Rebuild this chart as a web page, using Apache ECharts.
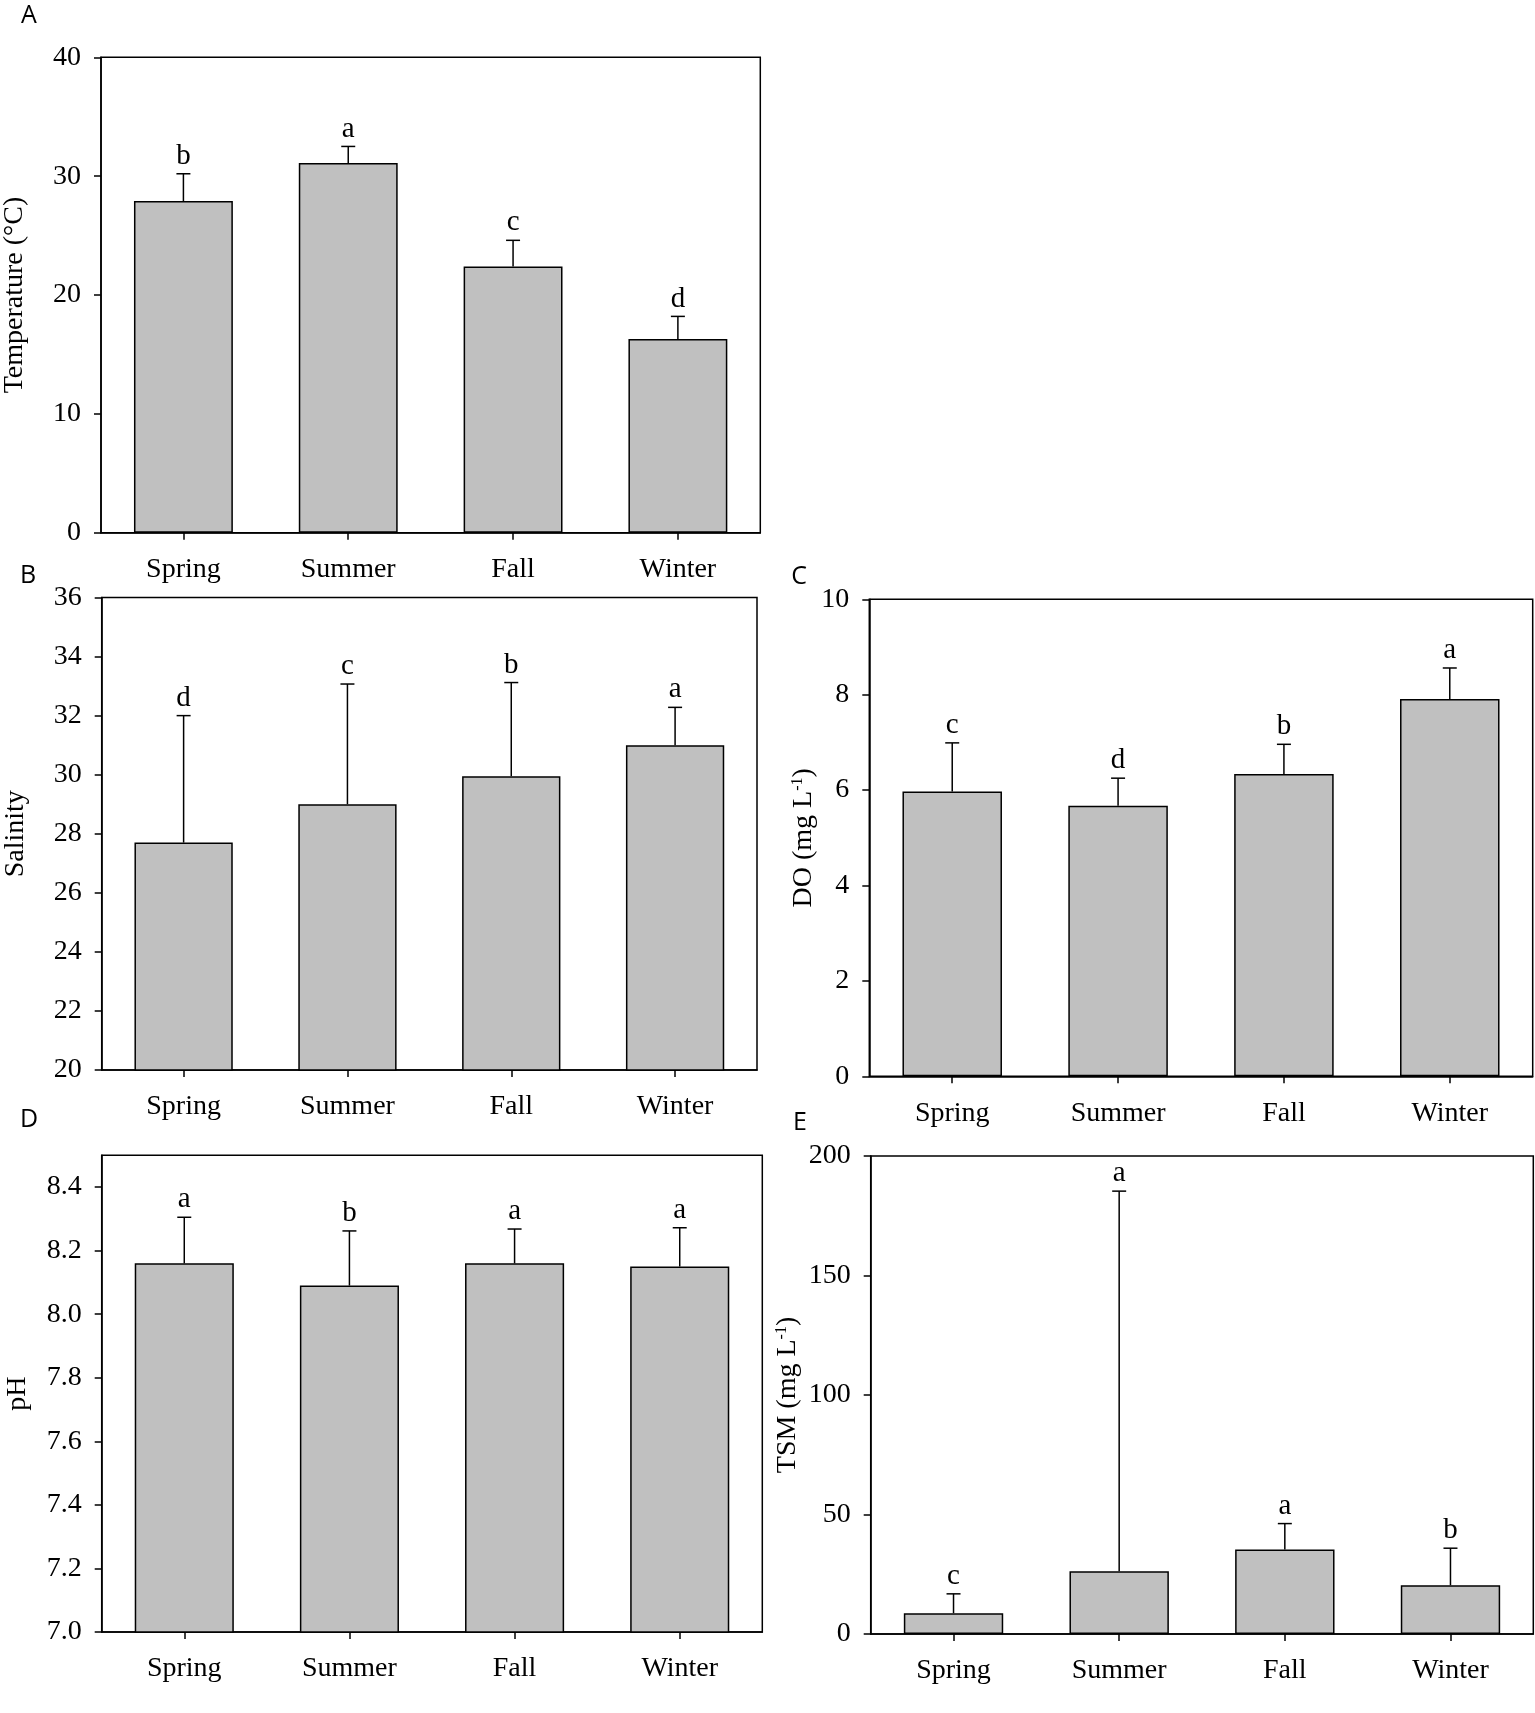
<!DOCTYPE html>
<html>
<head>
<meta charset="utf-8">
<script src="https://cdn.jsdelivr.net/npm/echarts@6/dist/echarts.min.js"></script>
<style>
html,body{margin:0;padding:0;background:#fff;}
#chart{width:1535px;height:1713px;}
</style>
</head>
<body>
<div id="chart"></div>
<script>
// ---------- DATA ----------
const categories = ['Spring', 'Summer', 'Fall', 'Winter'];

const tempMean    = [27.9, 31.1, 22.4, 16.3];
const tempUpper   = [30.2, 32.5, 24.6, 18.2];
const tempLetters = ['b', 'a', 'c', 'd'];
const tempTicks   = [0, 10, 20, 30, 40];

const salMean    = [27.7, 29.0, 29.95, 31.0];
const salUpper   = [32.0, 33.07, 33.12, 32.28];
const salLetters = ['d', 'c', 'b', 'a'];
const salTicks   = [20, 22, 24, 26, 28, 30, 32, 34, 36];

const doMean    = [5.97, 5.67, 6.34, 7.91];
const doUpper   = [6.99, 6.25, 6.96, 8.56];
const doLetters = ['c', 'd', 'b', 'a'];
const doTicks   = [0, 2, 4, 6, 8, 10];

const phMean    = [8.16, 8.09, 8.16, 8.15];
const phUpper   = [8.305, 8.262, 8.268, 8.272];
const phLetters = ['a', 'b', 'a', 'a'];
const phTicks   = [7.0, 7.2, 7.4, 7.6, 7.8, 8.0, 8.2, 8.4];
const phMax     = 8.5;

const tsmMean    = [8.7, 26.3, 35.4, 20.4];
const tsmUpper   = [16.8, 185.3, 46.2, 35.9];
const tsmLetters = ['c', 'a', 'a', 'b'];
const tsmTicks   = [0, 50, 100, 150, 200];

// ---------- LAYOUT ----------
const FONT = '"Liberation Serif", "Times New Roman", serif';
const panels = [
  {tag:'A', mean:tempMean, upper:tempUpper, letters:tempLetters, ticks:tempTicks, max:40,
   name:'Temperature (°C)', grid:{left:99.3, top:57.3, width:661, height:475.4}, nameGap:72, dec:0, tagPos:[29,16]},
  {tag:'B', mean:salMean, upper:salUpper, letters:salLetters, ticks:salTicks, max:36,
   name:'Salinity', grid:{left:101.7, top:597.5, width:655.3, height:472.5}, nameGap:72, dec:0, tagPos:[28,576]},
  {tag:'C', mean:doMean, upper:doUpper, letters:doLetters, ticks:doTicks, max:10,
   name:'DO (mg L{sup|-1})', grid:{left:869.3, top:599.3, width:663.4, height:477}, nameGap:49, dec:0, tagPos:[799,577]},
  {tag:'D', mean:phMean, upper:phUpper, letters:phLetters, ticks:phTicks, max:phMax,
   name:'pH', grid:{left:101.7, top:1155.3, width:660.6, height:476.7}, nameGap:70, dec:1, tagPos:[29,1120]},
  {tag:'E', mean:tsmMean, upper:tsmUpper, letters:tsmLetters, ticks:tsmTicks, max:200,
   name:'TSM (mg L{sup|-1})', grid:{left:870.7, top:1156, width:662.6, height:478}, nameGap:69, dec:0, tagPos:[800,1123]}
];

const grids = [], xAxes = [], yAxes = [], series = [], graphics = [];
panels.forEach((p, i) => {
  grids.push(Object.assign({show:true, borderColor:'#000', borderWidth:1.5, containLabel:false}, p.grid));
  xAxes.push({
    type:'category', gridIndex:i, data:categories, boundaryGap:true,
    axisLine:{show:true, lineStyle:{color:'#000', width:1.5}},
    axisTick:{show:true, alignWithLabel:true, length:7, lineStyle:{color:'#000', width:1.5}},
    axisLabel:{color:'#000', fontFamily:FONT, fontSize:28, margin:23},
    splitLine:{show:false}
  });
  yAxes.push({
    type:'value', gridIndex:i, min:p.ticks[0], max:p.max,
    axisLine:{show:true, lineStyle:{color:'#000', width:1.5}},
    axisTick:{show:true, length:7, lineStyle:{color:'#000', width:1.5}, customValues:p.ticks},
    axisLabel:{color:'#000', fontFamily:FONT, fontSize:28, margin:20, customValues:p.ticks,
      formatter: v => Number(v).toFixed(p.dec)},
    splitLine:{show:false},
    name:p.name, nameLocation:'middle', nameGap:p.nameGap, nameRotate:90,
    nameTextStyle:{color:'#000', fontFamily:FONT, fontSize:28,
      rich:{sup:{fontFamily:FONT, fontSize:16, verticalAlign:'top', padding:[0,0,12,0], color:'#000'}}}
  });
  series.push({
    type:'bar', xAxisIndex:i, yAxisIndex:i, data:p.mean, barWidth:'60%',
    itemStyle:{color:'#c0c0c0', borderColor:'#000', borderWidth:1.5},
    emphasis:{disabled:true}, silent:true, z:2
  });
  const letters = p.letters;
  series.push({
    type:'custom', xAxisIndex:i, yAxisIndex:i, clip:false, silent:true, z:5,
    data: p.mean.map((m, k) => [k, m, p.upper[k]]),
    renderItem: function(params, api) {
      const x = api.value(0);
      const p0 = api.coord([x, api.value(1)]);
      const p1 = api.coord([x, api.value(2)]);
      const ls = {stroke:'#000', lineWidth:1.5};
      return {type:'group', children:[
        {type:'line', shape:{x1:p0[0], y1:p0[1], x2:p1[0], y2:p1[1]}, style:ls},
        {type:'line', shape:{x1:p1[0]-7, y1:p1[1], x2:p1[0]+7, y2:p1[1]}, style:ls},
        {type:'text', x:p1[0], y:p1[1]-3, style:{text:letters[params.dataIndex], fill:'#000',
          font:'29px ' + FONT, textAlign:'center', textVerticalAlign:'bottom'}}
      ]};
    }
  });
  graphics.push({type:'text', x:p.tagPos[0], y:p.tagPos[1],
    style:{text:p.tag, fill:'#000', font:'25px "Open Sans", sans-serif', textAlign:'center', textVerticalAlign:'middle'}});
});

const chart = echarts.init(document.getElementById('chart'), null, {renderer:'canvas'});
chart.setOption({
  animation:false,
  backgroundColor:'#fff',
  grid:grids, xAxis:xAxes, yAxis:yAxes, series:series, graphic:graphics
});
</script>
</body>
</html>
